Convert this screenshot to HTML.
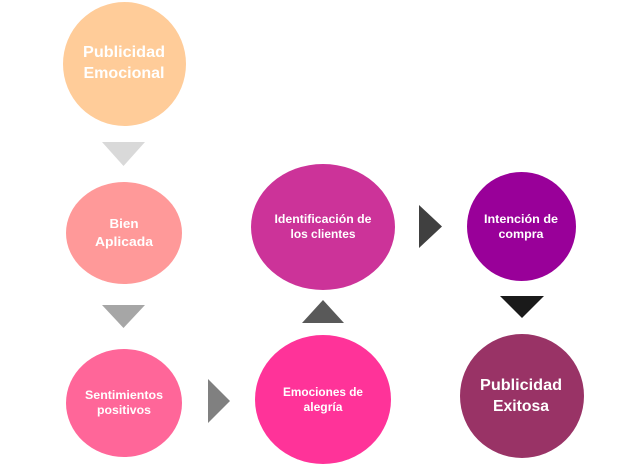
<!DOCTYPE html>
<html><head><meta charset="utf-8"><style>
html,body{margin:0;padding:0;background:#fff;width:643px;height:466px;overflow:hidden}
text{font-family:"Liberation Sans",sans-serif;font-weight:bold;fill:#fff;text-anchor:middle}
</style></head><body>
<svg width="643" height="466" viewBox="0 0 643 466" xmlns="http://www.w3.org/2000/svg">
<ellipse cx="124.5" cy="64" rx="61.5" ry="62" fill="#FFCC99"/>
<ellipse cx="124" cy="233" rx="58" ry="51" fill="#FF9999"/>
<ellipse cx="124" cy="403" rx="58" ry="54" fill="#FF6699"/>
<ellipse cx="323" cy="399.5" rx="68" ry="64.5" fill="#FF3399"/>
<ellipse cx="323" cy="227" rx="72" ry="63" fill="#CC3399"/>
<ellipse cx="521.5" cy="226.5" rx="54.5" ry="54.5" fill="#990099"/>
<ellipse cx="522" cy="396" rx="62" ry="62" fill="#993366"/>

<polygon points="102,142 145,142 123.5,166" fill="#D9D9D9"/>
<polygon points="102,305 145,305 123.5,328" fill="#A6A6A6"/>
<polygon points="208,379 230,401 208,423" fill="#808080"/>
<polygon points="302,323 344,323 323,300" fill="#595959"/>
<polygon points="419,205 442,226.5 419,248" fill="#404040"/>
<polygon points="500,296 544,296 522,318" fill="#1A1A1A"/>

<text x="124" y="57" font-size="16" textLength="82" lengthAdjust="spacingAndGlyphs">Publicidad</text>
<text x="124" y="78" font-size="16" textLength="81" lengthAdjust="spacingAndGlyphs">Emocional</text>
<text x="124" y="228" font-size="13" textLength="29" lengthAdjust="spacingAndGlyphs">Bien</text>
<text x="124" y="246" font-size="13" textLength="58" lengthAdjust="spacingAndGlyphs">Aplicada</text>
<text x="124" y="399" font-size="12" textLength="78" lengthAdjust="spacingAndGlyphs">Sentimientos</text>
<text x="124" y="414" font-size="12" textLength="54" lengthAdjust="spacingAndGlyphs">positivos</text>
<text x="323" y="396" font-size="12" textLength="80" lengthAdjust="spacingAndGlyphs">Emociones de</text>
<text x="323" y="411" font-size="12" textLength="39" lengthAdjust="spacingAndGlyphs">alegría</text>
<text x="323" y="223" font-size="12" textLength="97" lengthAdjust="spacingAndGlyphs">Identificación de</text>
<text x="323" y="238" font-size="12" textLength="65" lengthAdjust="spacingAndGlyphs">los clientes</text>
<text x="521" y="223" font-size="12" textLength="74" lengthAdjust="spacingAndGlyphs">Intención de</text>
<text x="521" y="238" font-size="12" textLength="45" lengthAdjust="spacingAndGlyphs">compra</text>
<text x="521" y="390" font-size="16" textLength="82" lengthAdjust="spacingAndGlyphs">Publicidad</text>
<text x="521" y="411" font-size="16" textLength="56" lengthAdjust="spacingAndGlyphs">Exitosa</text>
</svg>
</body></html>
